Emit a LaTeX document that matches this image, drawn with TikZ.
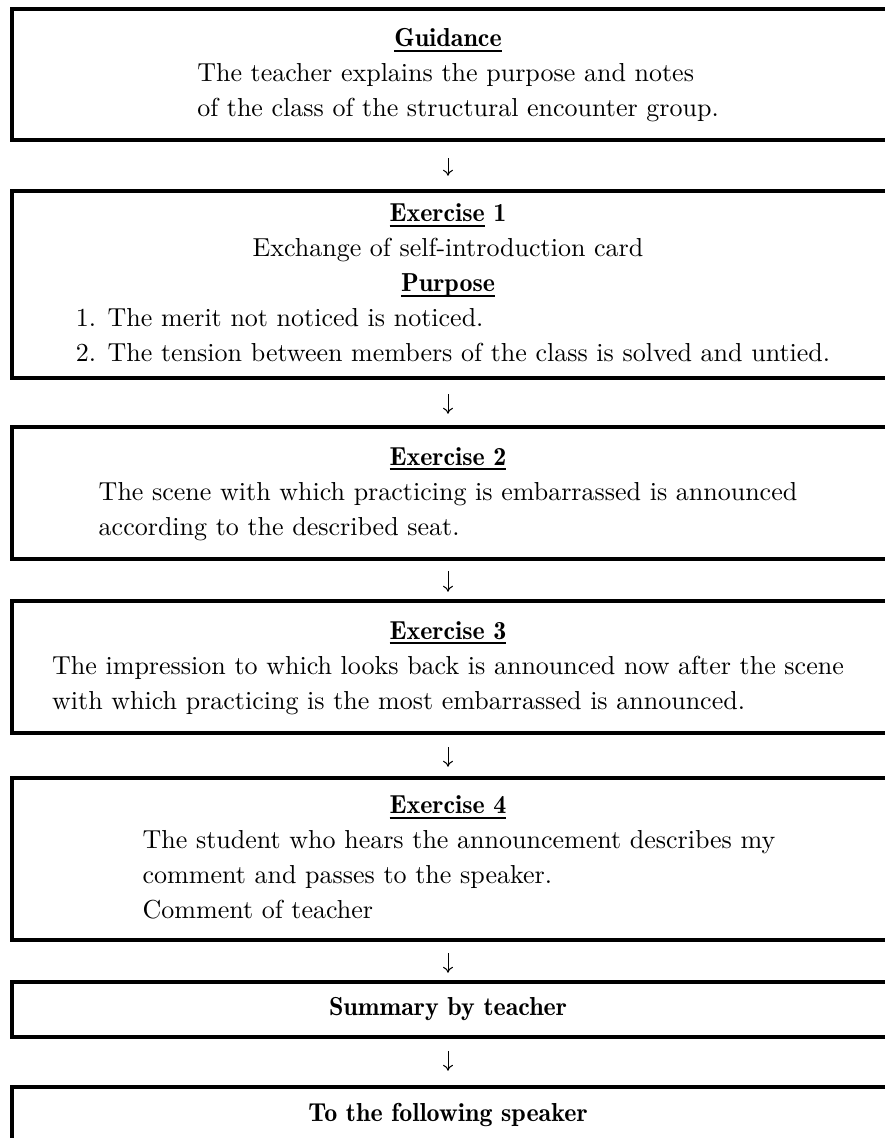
\documentclass[tikz,border=0pt]{standalone}
\usepackage{fontspec}
\setmainfont{lmroman10-regular.otf}[BoldFont=lmromandemi10-regular.otf]
\usetikzlibrary{arrows.meta}
\newcommand{\ulhead}[1]{\setbox0\hbox{\bfseries #1}\rlap{\raisebox{-5pt}{\rule{\wd0}{1.8pt}}}\box0\relax}
\begin{document}
\begin{tikzpicture}[x=1pt,y=1pt,
  flowbox/.style={minimum width=872pt,inner sep=0pt,font=\fontsize{26}{35}\selectfont},
  boxline/.style={line width=4pt},
  flowarrow/.style={line width=1pt,-{To[length=6pt,width=10pt]}}]
\useasboundingbox (0,0) rectangle (885,-1138);
\node[flowbox,minimum height=131pt](guide)at(448,-74.5){\begin{tabular}{@{\hspace{20pt}}l@{}}
\multicolumn{1}{@{}c@{}}{\ulhead{Guidance}}\\
The teacher explains the purpose and notes\\
of the class of the structural encounter group.
\end{tabular}};
\node[flowbox,minimum height=187pt](ex1)at(448,-284.5){\begin{tabular}{@{\hspace{10pt}}l@{}}
\multicolumn{1}{@{}c@{}}{\ulhead{Exercise} \textbf{1}}\\
\multicolumn{1}{@{}c@{}}{Exchange of self-introduction card}\\
\multicolumn{1}{@{}c@{}}{\ulhead{Purpose}}\\
1. The merit not noticed is noticed.\\
2. The tension between members of the class is solved and untied.
\end{tabular}};
\node[flowbox,minimum height=132pt](ex2)at(448,-493){\begin{tabular}{@{}l@{}}
\multicolumn{1}{@{}c@{}}{\ulhead{Exercise 2}}\\
The scene with which practicing is embarrassed is announced\\
according to the described seat.
\end{tabular}};
\node[flowbox,minimum height=132pt](ex3)at(448,-667){\begin{tabular}{@{}l@{}}
\multicolumn{1}{@{}c@{}}{\ulhead{Exercise 3}}\\
The impression to which looks back is announced now after the scene\\
with which practicing is the most embarrassed is announced.
\end{tabular}};
\node[flowbox,minimum height=162pt](ex4)at(448,-859){\begin{tabular}{@{\hspace{22pt}}l@{}}
\multicolumn{1}{@{}c@{}}{\ulhead{Exercise 4}}\\
The student who hears the announcement describes my\\
comment and passes to the speaker.\\
Comment of teacher
\end{tabular}};
\node[flowbox,minimum height=55pt](summ)at(448,-1009.5){\textbf{Summary by teacher}};
\node[flowbox,minimum height=55pt](next)at(448,-1114.5){\textbf{To the following speaker}};
\foreach \b in {guide,ex1,ex2,ex3,ex4,summ,next}
  \draw[boxline]([xshift=20pt]\b.north east)--(\b.north west)--(\b.south west)--([xshift=20pt]\b.south east);
\foreach \a/\b/\s/\t in {guide/ex1/18/15,ex1/ex2/16/13,ex2/ex3/12/9,ex3/ex4/14/11,ex4/summ/13/9,summ/next/14/16}
  \draw[flowarrow,shorten <=\s pt,shorten >=\t pt](\a.south)--(\b.north);
\end{tikzpicture}
\end{document}
